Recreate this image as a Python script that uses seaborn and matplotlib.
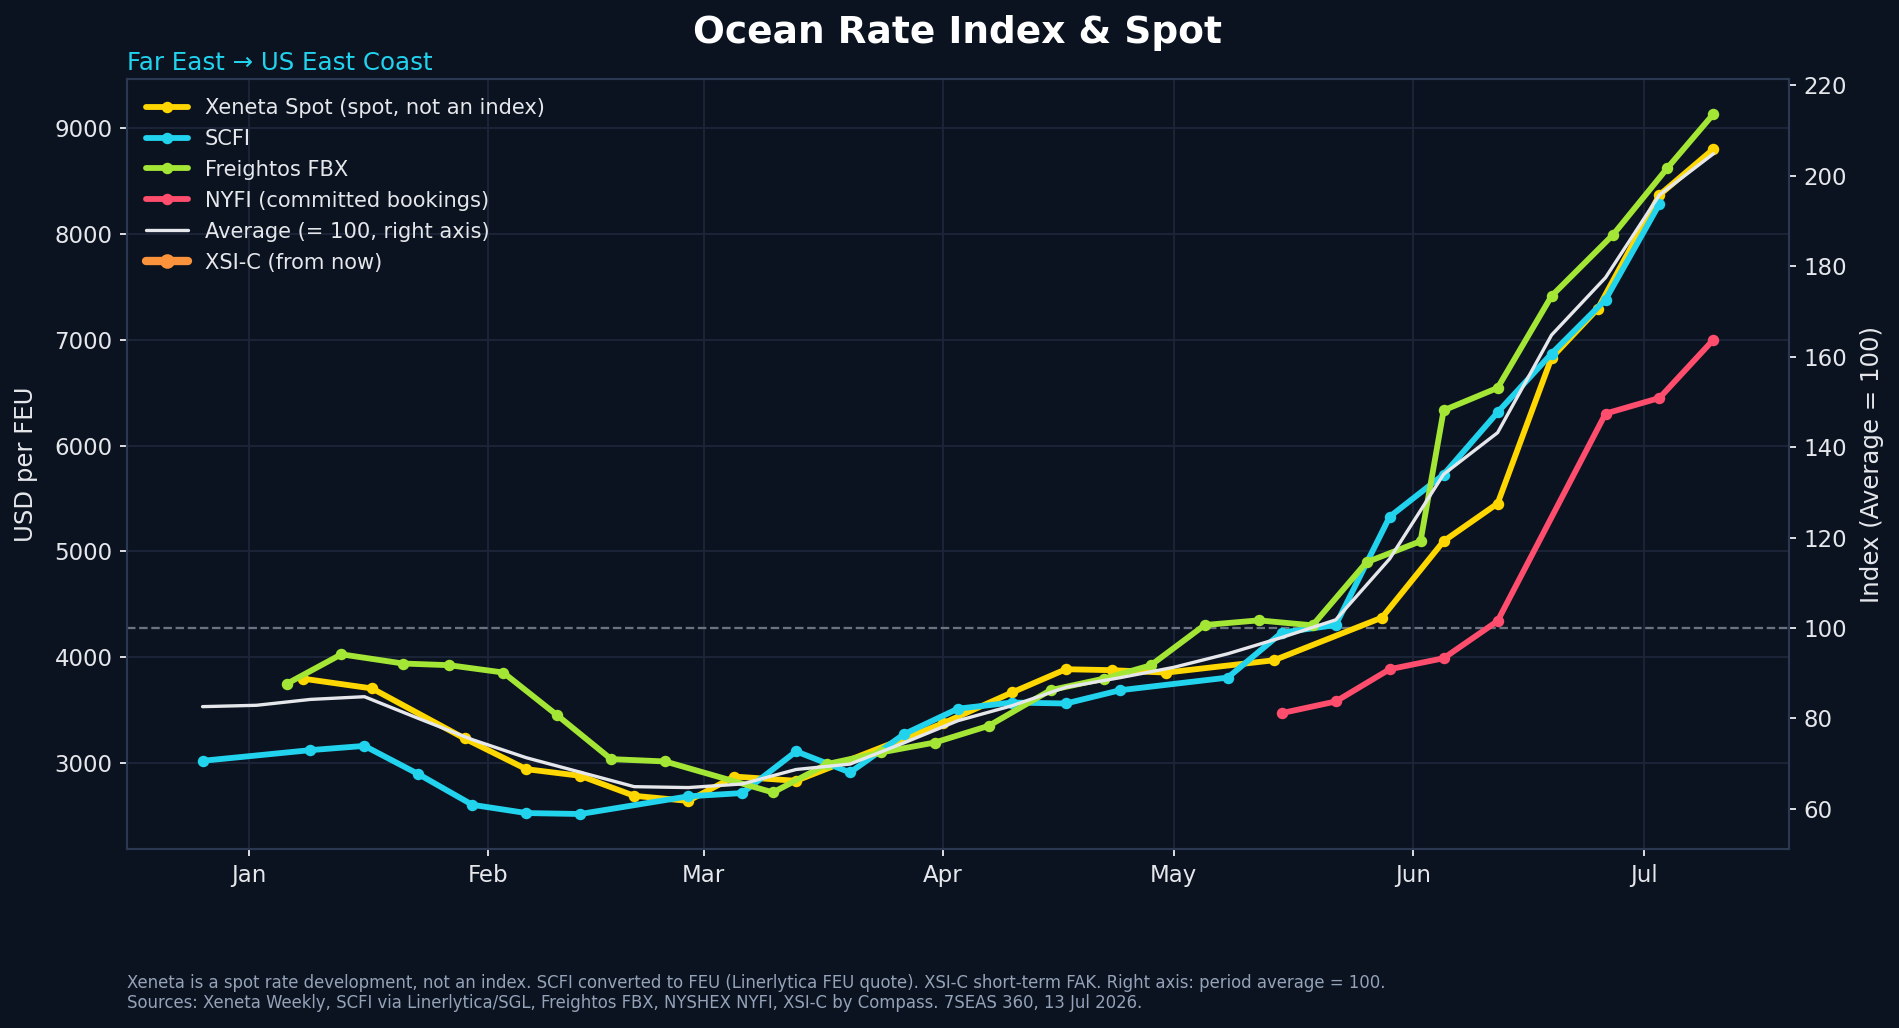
import matplotlib
matplotlib.use("Agg")
import matplotlib.pyplot as plt
import matplotlib.dates as mdates
from matplotlib.ticker import MultipleLocator
from matplotlib.lines import Line2D
import seaborn as sns
import pandas as pd

# ---------------- data ----------------
xeneta_dates = ["2026-01-08", "2026-01-17", "2026-01-29", "2026-02-06", "2026-02-13", "2026-02-20",
                "2026-02-27", "2026-03-05", "2026-03-13", "2026-04-01", "2026-04-10", "2026-04-17",
                "2026-04-23", "2026-04-30", "2026-05-14", "2026-05-28", "2026-06-05", "2026-06-12",
                "2026-06-19", "2026-06-25", "2026-07-03", "2026-07-10"]
xeneta_vals = [3796, 3703, 3230, 2940, 2877, 2688, 2640, 2870, 2830, 3372, 3665, 3885,
               3876, 3853, 3970, 4373, 5096, 5452, 6830, 7294, 8370, 8804]

scfi_dates = ["2025-12-26", "2026-01-09", "2026-01-16", "2026-01-23", "2026-01-30", "2026-02-06",
              "2026-02-13", "2026-02-27", "2026-03-06", "2026-03-13", "2026-03-20", "2026-03-27",
              "2026-04-03", "2026-04-10", "2026-04-17", "2026-04-24", "2026-05-08", "2026-05-15",
              "2026-05-22", "2026-05-29", "2026-06-05", "2026-06-12", "2026-06-19", "2026-06-26",
              "2026-07-03"]
scfi_vals = [3019, 3120, 3160, 2893, 2603, 2525, 2516, 2683, 2714, 3108, 2909, 3271,
             3512, 3570, 3561, 3686, 3806, 4231, 4303, 5327, 5726, 6314, 6869, 7379, 8285]

fbx_dates = ["2026-01-06", "2026-01-13", "2026-01-21", "2026-01-27", "2026-02-03", "2026-02-10",
             "2026-02-17", "2026-02-24", "2026-03-10", "2026-03-17", "2026-03-24", "2026-03-31",
             "2026-04-07", "2026-04-15", "2026-04-22", "2026-04-28", "2026-05-05", "2026-05-12",
             "2026-05-19", "2026-05-26", "2026-06-02", "2026-06-05", "2026-06-12", "2026-06-19",
             "2026-06-27", "2026-07-04", "2026-07-10"]
fbx_vals = [3750, 4026, 3939, 3923, 3854, 3450, 3035, 3013, 2720, 2988, 3098, 3192,
            3350, 3687, 3797, 3922, 4303, 4347, 4300, 4897, 5095, 6333, 6545, 7414,
            7995, 8622, 9135]

nyfi_dates = ["2026-05-15", "2026-05-22", "2026-05-29", "2026-06-05", "2026-06-12",
              "2026-06-26", "2026-07-03", "2026-07-10"]
nyfi_vals = [3470, 3580, 3885, 3989, 4341, 6302, 6450, 7001]

avg_dates = ["2025-12-26", "2026-01-02", "2026-01-09", "2026-01-16", "2026-01-23", "2026-01-30",
             "2026-02-06", "2026-02-13", "2026-02-20", "2026-02-27", "2026-03-06", "2026-03-13",
             "2026-03-20", "2026-03-27", "2026-04-03", "2026-04-10", "2026-04-17", "2026-04-24",
             "2026-05-01", "2026-05-08", "2026-05-15", "2026-05-22", "2026-05-29", "2026-06-05",
             "2026-06-12", "2026-06-19", "2026-06-26", "2026-07-03", "2026-07-10"]
avg_index = [82.6, 82.9, 84.2, 84.8, 80.0, 75.3, 71.3, 68.1, 64.9, 64.7, 65.5, 68.7,
             69.9, 74.6, 79.5, 82.8, 86.9, 89.0, 91.3, 94.3, 97.9, 101.8, 115.3, 134.0,
             143.2, 164.8, 177.5, 195.8, 204.9]

period_avg_usd = 4275  # USD/FEU level equal to index 100

series_labels = ["Xeneta Spot (spot, not an index)", "SCFI", "Freightos FBX",
                 "NYFI (committed bookings)", "Average (= 100, right axis)", "XSI-C (from now)"]

title = "Ocean Rate Index & Spot"
subtitle = "Far East \u2192 US East Coast"
footer1 = ("Xeneta is a spot rate development, not an index. SCFI converted to FEU (Linerlytica FEU quote). "
           "XSI-C short-term FAK. Right axis: period average = 100.")
footer2 = ("Sources: Xeneta Weekly, SCFI via Linerlytica/SGL, Freightos FBX, NYSHEX NYFI, "
           "XSI-C by Compass. 7SEAS 360, 13 Jul 2026.")

# ---------------- style ----------------
BG = "#0B1220"
GRID = "#1C2638"
SPINE = "#2A3852"
TXT = "#E5E7EB"
C_XEN = "#FFD700"
C_SCFI = "#22D3EE"
C_FBX = "#A3E635"
C_NYFI = "#FF4D6D"
C_AVG = "#E5E7EB"
C_XSI = "#FB923C"

sns.set_theme(style="dark")
plt.rcParams["font.family"] = ["DejaVu Sans"]
plt.rcParams["axes.facecolor"] = BG
plt.rcParams["figure.facecolor"] = BG

fig = plt.figure(figsize=(1899 / 150, 1028 / 150), dpi=150, facecolor=BG)
ax = fig.add_axes([0.06688, 0.17412, 0.87519, 0.74903])
ax.set_facecolor(BG)
ax2 = ax.twinx()

lw, ms = 2.8, 5.5
handles = []
for dates, vals, col, lab in [
    (xeneta_dates, xeneta_vals, C_XEN, series_labels[0]),
    (scfi_dates, scfi_vals, C_SCFI, series_labels[1]),
    (fbx_dates, fbx_vals, C_FBX, series_labels[2]),
    (nyfi_dates, nyfi_vals, C_NYFI, series_labels[3]),
]:
    df = pd.DataFrame({"date": pd.to_datetime(dates), "val": vals})
    sns.lineplot(data=df, x="date", y="val", ax=ax, color=col, linewidth=lw,
                 marker="o", markersize=ms, markeredgecolor=col, markeredgewidth=0,
                 legend=False, zorder=3)
    line = ax.lines[-1]
    line.set_label(lab)
    handles.append(line)

dfa = pd.DataFrame({"date": pd.to_datetime(avg_dates), "idx": avg_index})
sns.lineplot(data=dfa, x="date", y="idx", ax=ax2, color=C_AVG, linewidth=1.6,
             legend=False, zorder=3)
avg_line = ax2.lines[-1]
avg_line.set_label(series_labels[4])
handles.append(avg_line)

xsi_handle = Line2D([], [], color=C_XSI, linewidth=4, marker="o", markersize=7,
                    markeredgewidth=0, label=series_labels[5])
handles.append(xsi_handle)

# reference level (index 100)
ax.axhline(period_avg_usd, color="#6B7280", linestyle="--", linewidth=1.1, zorder=1)

# axes limits / linking
lo, hi = ax.get_ylim()
ax2.set_ylim(lo / period_avg_usd * 100, hi / period_avg_usd * 100)

ax.xaxis.set_major_locator(mdates.MonthLocator())
ax.xaxis.set_major_formatter(mdates.DateFormatter("%b"))
ax.yaxis.set_major_locator(MultipleLocator(1000))
ax2.yaxis.set_major_locator(MultipleLocator(20))

ax.grid(True, color=GRID, linewidth=0.9)
ax2.grid(False)
ax.set_axisbelow(True)

for a in (ax, ax2):
    for s in a.spines.values():
        s.set_color(SPINE)
        s.set_linewidth(1.0)
    a.tick_params(colors=TXT, labelsize=11, length=3.5, width=0.9)
ax.tick_params(axis="x", bottom=True)
ax.tick_params(axis="y", left=True)
ax2.tick_params(axis="y", right=True)

ax.set_xlabel("")
ax.set_ylabel("USD per FEU", color=TXT, fontsize=11.7, labelpad=8)
ax2.set_ylabel("Index (Average = 100)", color=TXT, fontsize=11.7, labelpad=6)

leg = ax2.legend(handles=handles, loc="upper left", frameon=False, fontsize=10.1,
                 labelcolor=TXT, labelspacing=0.52, handlelength=2.0)

fig.text(0.5044, 0.958, title, ha="center", va="baseline", fontsize=18,
         fontweight="bold", color="white")
ax.text(0.0, 1.0117, subtitle, transform=ax.transAxes, ha="left", va="baseline",
        fontsize=11.75, color=C_SCFI)
fig.text(0.06688, 1 - 988 / 1028, footer1, ha="left", va="baseline", fontsize=7.95, color="#94A3B8")
fig.text(0.06688, 1 - 1008 / 1028, footer2, ha="left", va="baseline", fontsize=7.95, color="#94A3B8")

fig.savefig("out.png", dpi=150, facecolor=BG)
